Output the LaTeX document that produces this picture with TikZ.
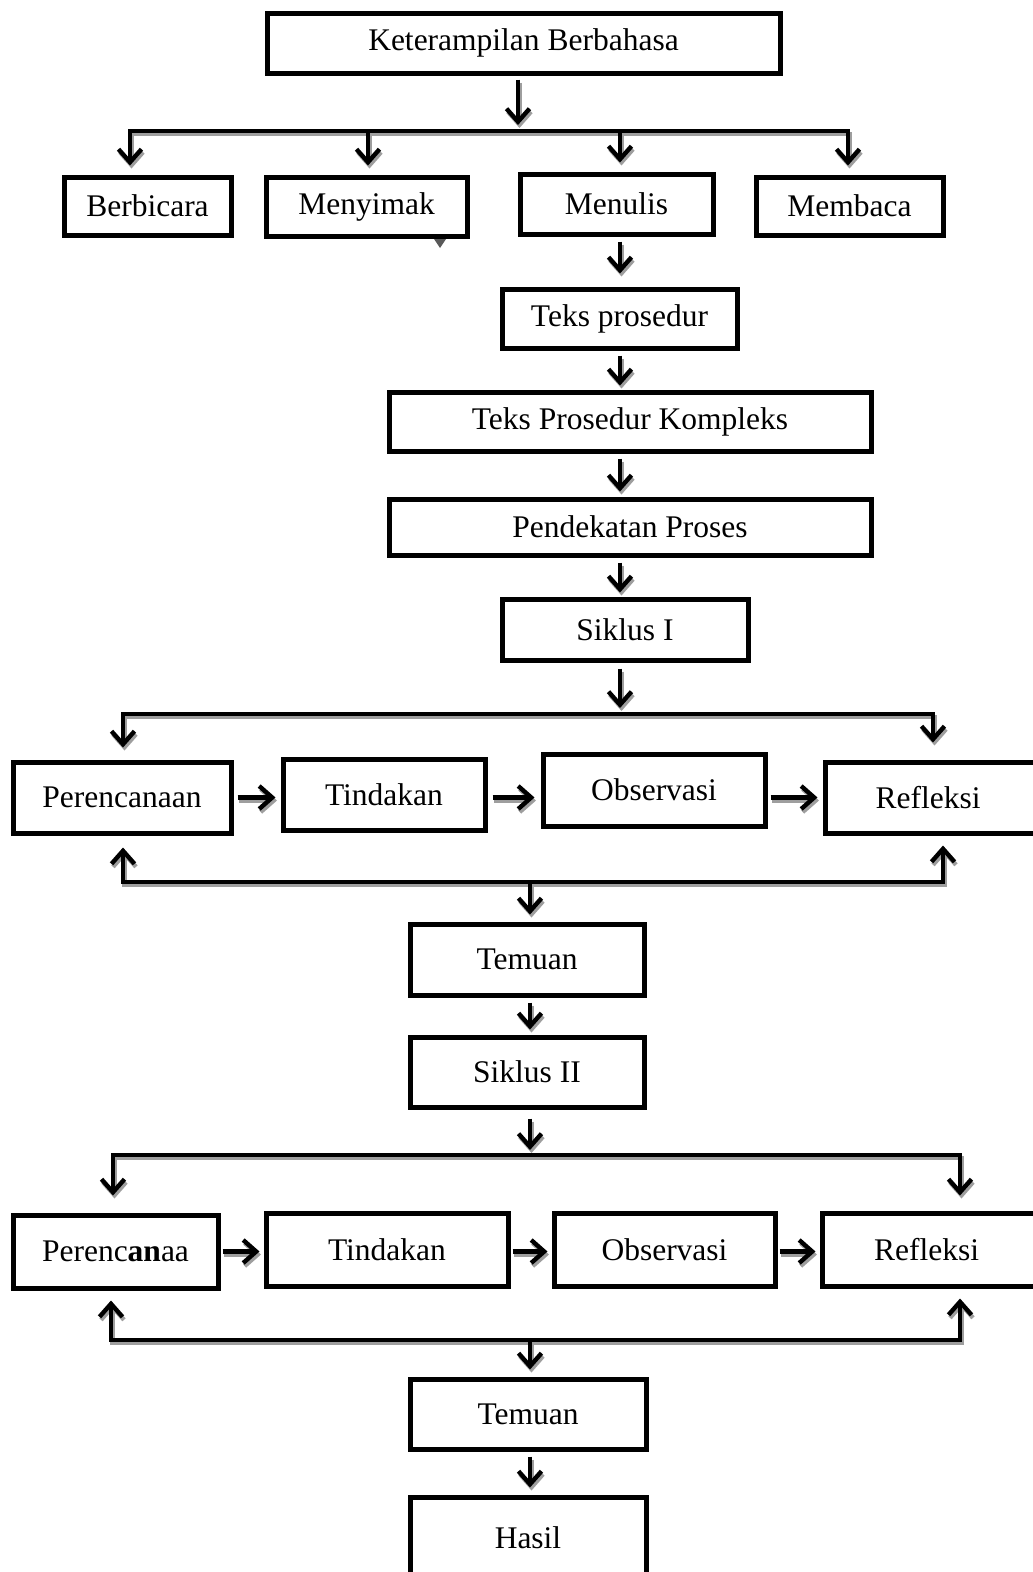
\documentclass[tikz,border=0pt]{standalone}
\usepackage{fontspec}
\setmainfont{Liberation Serif}
\usetikzlibrary{arrows.meta}
\newcommand\drawconns[1]{%
  \draw[#1,->,shorten <=4pt,shorten >=6pt] (kb.south -| t0) -- (t0);
  \draw[#1,<->,shorten <=9pt,shorten >=9pt] (b1 |- bb.north) -- (b1) -- (b4) -- (b4 |- mb.north);
  \draw[#1,->,shorten >=9pt] (b2) -- (b2 |- ms.north);
  \draw[#1,->,shorten >=9pt] (b3) -- (b3 |- mn.north);
  \draw[#1,->,shorten <=5pt,shorten >=13pt] (mn.south -| cA) -- (tp.north -| cA);
  \draw[#1,->,shorten <=5pt,shorten >=4pt] (tp.south -| cA) -- (tpk.north -| cA);
  \draw[#1,->,shorten <=5pt,shorten >=5pt] (tpk.south -| cA) -- (pp.north -| cA);
  \draw[#1,->,shorten <=5pt,shorten >=4pt] (pp.south -| cA) -- (s1.north -| cA);
  \draw[#1,->,shorten <=6pt,shorten >=6pt] (s1.south -| c1) -- (c1);
  \draw[#1,<->,shorten <=12pt,shorten >=17pt] (l1 |- per1.north) -- (l1) -- (r1) -- (r1 |- ref1.north);
  \draw[#1,->,shorten <=4pt,shorten >=5pt] (per1.east) -- (per1.east -| tin1.west);
  \draw[#1,->,shorten <=5pt,shorten >=6pt] (per1.east -| tin1.east) -- (per1.east -| obs1.west);
  \draw[#1,->,shorten <=3pt,shorten >=5pt] (per1.east -| obs1.east) -- (per1.east -| ref1.west);
  \draw[#1,<->,shorten <=12pt,shorten >=10pt] (l1b |- per1.south) -- (l1b) -- (r1b) -- (r1b |- ref1.south);
  \draw[#1,->,shorten >=7pt] (m1) -- (m1 |- tem1.north);
  \draw[#1,->,shorten <=5pt,shorten >=5pt] (tem1.south -| cB) -- (s2.north -| cB);
  \draw[#1,->,shorten <=9pt,shorten >=5pt] (s2.south -| c2) -- (c2);
  \draw[#1,<->,shorten <=17pt,shorten >=15pt] (l2 |- per2.north) -- (l2) -- (r2) -- (r2 |- ref2.north);
  \draw[#1,->,shorten <=2pt,shorten >=4pt] (per2.east) -- (per2.east -| tin2.west);
  \draw[#1,->,shorten <=2pt,shorten >=4pt] (per2.east -| tin2.east) -- (per2.east -| obs2.west);
  \draw[#1,->,shorten <=2pt,shorten >=4pt] (per2.east -| obs2.east) -- (per2.east -| ref2.west);
  \draw[#1,<->,shorten <=10pt,shorten >=10pt] (l2b |- per2.south) -- (l2b) -- (r2b) -- (r2b |- ref2.south);
  \draw[#1,->,shorten >=7pt] (m2) -- (m2 |- tem2.north);
  \draw[#1,->,shorten <=5pt,shorten >=7pt] (tem2.south -| cB) -- (has.north -| cB);
}
\begin{document}
\begin{tikzpicture}[x=1pt,y=-1pt,
  >={Straight Barb[length=13pt,width=23pt]},
  box/.style={draw, line width=5pt, inner sep=0pt, fill=white,
    font=\fontsize{31.5}{36}\selectfont},
  conn/.style={line width=4.4pt, draw=black},
  connshadow/.style={line width=4.4pt, draw=black!38}
]
\useasboundingbox (0,0) rectangle (1033,1572);

% boxes
\node[box, minimum width=513pt, minimum height=60pt] (kb) at (523.5,43) {Keterampilan Berbahasa};
\node[box, minimum width=167pt, minimum height=58pt] (bb) at (147.5,206) {Berbicara};
\node[box, minimum width=201pt, minimum height=59pt] (ms) at (366.5,206.5) {Menyimak};
\node[box, minimum width=193pt, minimum height=60pt] (mn) at (616.5,204) {Menulis};
\node[box, minimum width=187pt, minimum height=58pt] (mb) at (849.5,206) {Membaca};
\node[box, minimum width=235pt, minimum height=59pt] (tp) at (619.5,318.5) {Teks prosedur};
\node[box, minimum width=482pt, minimum height=59pt] (tpk) at (630,421.5) {Teks Prosedur Kompleks};
\node[box, minimum width=482pt, minimum height=56pt] (pp) at (630,527) {Pendekatan Proses};
\node[box, minimum width=246pt, minimum height=61pt] (s1) at (625,629.5) {Siklus I};

\node[box, minimum width=218pt, minimum height=71pt] (per1) at (122,797.5) {Perencanaan};
\node[box, minimum width=202pt, minimum height=71pt] (tin1) at (384,794.5) {Tindakan};
\node[box, minimum width=222pt, minimum height=72pt] (obs1) at (654,790) {Observasi};
\node[box, minimum width=218pt, minimum height=71pt, text width=208pt, align=center] (ref1) at (934,797.5) {\hspace*{-12pt}Refleksi};

\node[box, minimum width=234pt, minimum height=71pt] (tem1) at (527,959.5) {Temuan};
\node[box, minimum width=234pt, minimum height=70pt] (s2) at (527,1072) {Siklus II};

\node[box, minimum width=205pt, minimum height=73pt] (per2) at (115.5,1251.5) {Perenc\textbf{an}aa};
\node[box, minimum width=242pt, minimum height=73pt] (tin2) at (387,1249.5) {Tindakan};
\node[box, minimum width=221pt, minimum height=73pt] (obs2) at (664.5,1249.5) {Observasi};
\node[box, minimum width=221pt, minimum height=73pt, text width=211pt, align=center] (ref2) at (932.5,1249.5) {\hspace*{-12pt}Refleksi};

\node[box, minimum width=236pt, minimum height=70pt] (tem2) at (528,1414) {Temuan};
\node[box, minimum width=236pt, minimum height=81pt] (has) at (528,1537.5) {Hasil};

% small tail under Menyimak
\fill[black!65] (434,239) -- (446,239) -- (440,248) -- cycle;

% connector coordinates
\coordinate (t0) at (518,131);
\coordinate (b1) at (130,131);
\coordinate (b2) at (368,131);
\coordinate (b3) at (620,131);
\coordinate (b4) at (848,131);
\coordinate (cA) at (620,0);
\coordinate (c1) at (620,714);
\coordinate (l1) at (123,714);
\coordinate (r1) at (933,714);
\coordinate (l1b) at (123,882);
\coordinate (r1b) at (943,882);
\coordinate (m1) at (530,882);
\coordinate (cB) at (530,0);
\coordinate (c2) at (530,1155);
\coordinate (l2) at (113,1155);
\coordinate (r2) at (960,1155);
\coordinate (l2b) at (111,1340);
\coordinate (r2b) at (960,1340);
\coordinate (m2) at (530,1340);

% shadows, then connectors
\begin{scope}[transform canvas={shift={(1.5pt,-3pt)}}]
  \drawconns{connshadow}
\end{scope}
\drawconns{conn}
\end{tikzpicture}
\end{document}
